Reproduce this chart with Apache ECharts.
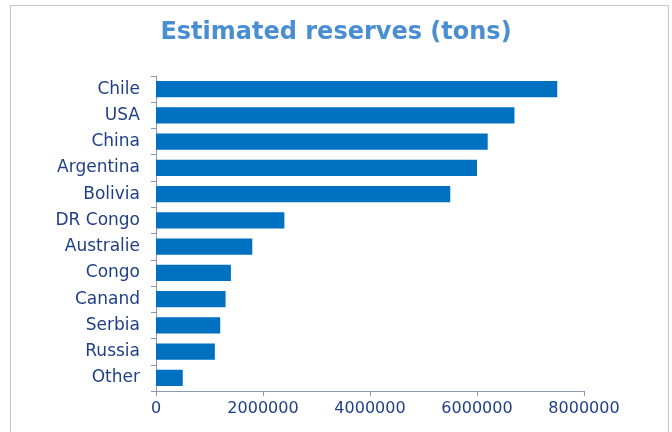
<!DOCTYPE html>
<html>
<head>
<meta charset="utf-8">
<script src="https://cdn.jsdelivr.net/npm/echarts@6/dist/echarts.min.js"></script>
<style>
  html, body { margin: 0; padding: 0; background: #fff; }
  #frame { position: absolute; left: 10px; top: 5px; width: 659px; height: 440px; border: 1px solid #c8c8c8; box-sizing: border-box; }
  #chart { position: absolute; left: 0; top: 0; width: 672px; height: 432px; }
</style>
</head>
<body>
<div id="frame"></div>
<div id="chart"></div>
<script>
  // categories listed bottom-to-top (ECharts draws category axis upward)
  var countries = ['Other', 'Russia', 'Serbia', 'Canand', 'Congo', 'Australie', 'DR Congo', 'Bolivia', 'Argentina', 'China', 'USA', 'Chile'];
  var reserves = [500000, 1100000, 1200000, 1300000, 1400000, 1800000, 2400000, 5500000, 6000000, 6200000, 6700000, 7500000];
  var xTicks = [0, 2000000, 4000000, 6000000, 8000000];

  var axisCol = '#8c97b3';
  var labelCol = '#1f3f86';
  var font = 'DejaVu Sans';

  var option = {
    animation: false,
    title: {
      text: 'Estimated reserves (tons)',
      left: 'center',
      top: 16,
      textStyle: { color: '#4a8ed2', fontSize: 24, fontWeight: 'bold', fontFamily: font }
    },
    grid: { left: 156, right: 88, top: 76, bottom: 41, containLabel: false },
    xAxis: {
      type: 'value',
      min: xTicks[0],
      max: xTicks[xTicks.length - 1],
      interval: 2000000,
      axisLine: { show: true, lineStyle: { color: axisCol } },
      axisTick: { show: true, length: 5, lineStyle: { color: axisCol } },
      splitLine: { show: false },
      axisLabel: {
        color: labelCol, fontSize: 16, fontFamily: font, margin: 10,
        formatter: function (v) { return String(v); }
      }
    },
    yAxis: {
      type: 'category',
      data: countries,
      axisLine: { show: true, lineStyle: { color: axisCol } },
      axisTick: { show: true, length: 5, lineStyle: { color: axisCol } },
      axisLabel: { color: labelCol, fontSize: 17, fontFamily: font, margin: 16 }
    },
    series: [{
      type: 'bar',
      data: reserves,
      barCategoryGap: '38%',
      itemStyle: { color: '#0070c0' }
    }]
  };

  var myChart = echarts.init(document.getElementById('chart'));
  myChart.setOption(option);
</script>
</body>
</html>
